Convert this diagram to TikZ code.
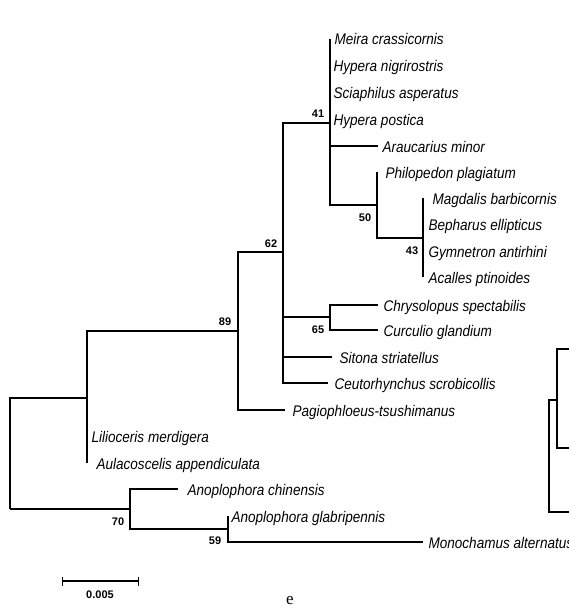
\documentclass[tikz,border=0pt]{standalone}
\usepackage{fontspec}
\usetikzlibrary{arrows.meta}
\newfontfamily\arialfont{Liberation Sans}
\newfontfamily\narrowfont{Liberation Sans}[FakeStretch=0.88]
\newfontfamily\timesfont{Liberation Serif}
\newcommand{\taxfont}{\narrowfont\itshape\fontsize{15.4}{18}\selectfont}
\newcommand{\bootfont}{\arialfont\bfseries\fontsize{11}{13}\selectfont}

\begin{document}
\begin{tikzpicture}[x=1pt,y=-1pt,line width=1.1pt,
  taxon/.style={anchor=west,inner xsep=4pt,inner ysep=0pt,text height=12pt,text depth=0pt,font=\taxfont},
  boot/.style={inner sep=0pt,font=\bootfont}]
\useasboundingbox (0,0) rectangle (569,610);
% internal nodes of the tree
\coordinate (root) at (10,509);
\coordinate (nA) at (87,398);
\coordinate (n89) at (238,331);
\coordinate (n62) at (283,252);
\coordinate (n41) at (330,123);
\coordinate (n50) at (377,205);
\coordinate (n43) at (423,238);
\coordinate (n65) at (330,317);
\coordinate (n70) at (130,509);
\coordinate (n59) at (228,529);
% taxa
\node[taxon] (meira) at (330,39) {Meira crassicornis};
\node[taxon,inner xsep=3pt] (hypnig) at (330,65) {Hypera nigrirostris};
\node[taxon,inner xsep=3pt] (sciaph) at (330,92) {Sciaphilus asperatus};
\node[taxon,inner xsep=3pt] (hyppos) at (330,119) {Hypera postica};
\node[taxon] (arauc) at (378,146) {Araucarius minor};
\node[taxon,inner xsep=8pt] (philo) at (377,172) {Philopedon plagiatum};
\node[taxon,inner xsep=9pt] (magd) at (423,198) {Magdalis barbicornis};
\node[taxon,inner xsep=5pt] (beph) at (423,224) {Bepharus ellipticus};
\node[taxon,inner xsep=5pt] (gymn) at (423,251) {Gymnetron antirhini};
\node[taxon,inner xsep=5pt] (acal) at (423,277) {Acalles ptinoides};
\node[taxon,inner xsep=5pt] (chrys) at (378,305) {Chrysolopus spectabilis};
\node[taxon,inner xsep=5pt] (curc) at (378,330) {Curculio glandium};
\node[taxon,inner xsep=7pt] (sito) at (332,357) {Sitona striatellus};
\node[taxon,inner xsep=6pt] (ceut) at (328,383) {Ceutorhynchus scrobicollis};
\node[taxon,inner xsep=7pt] (pagio) at (285,410) {Pagiophloeus-tsushimanus};
\node[taxon] (lilio) at (87,436) {Lilioceris merdigera};
\node[taxon,inner xsep=9pt] (aulac) at (87,463) {Aulacoscelis appendiculata};
\node[taxon,inner xsep=9pt] (anochi) at (178,489) {Anoplophora chinensis};
\node[taxon,inner xsep=3pt] (anogla) at (228,516) {Anoplophora glabripennis};
\node[taxon,inner xsep=5pt] (monoch) at (423,542) {Monochamus alternatus};
% branches
\draw (root) |- (nA);
\draw (root) |- (n70);
\draw (nA) |- (n89);
\draw (nA) |- (lilio.west);
\draw (nA) |- (aulac.west);
\draw (n89) |- (n62);
\draw (n89) |- (pagio.west);
\draw (n62) |- (n41);
\draw (n62) |- (n65);
\draw (n62) |- (sito.west);
\draw (n62) |- (ceut.west);
\draw (n41) |- (meira.west);
\draw (n41) |- (hypnig.west);
\draw (n41) |- (sciaph.west);
\draw (n41) |- (hyppos.west);
\draw (n41) |- (arauc.west);
\draw (n41) |- (n50);
\draw (n50) |- (philo.west);
\draw (n50) |- (n43);
\draw (n43) |- (magd.west);
\draw (n43) |- (beph.west);
\draw (n43) |- (gymn.west);
\draw (n43) |- (acal.west);
\draw (n65) |- (chrys.west);
\draw (n65) |- (curc.west);
\draw (n70) |- (anochi.west);
\draw (n70) |- (n59);
\draw (n59) |- (anogla.west);
\draw (n59) |- (monoch.west);
% bootstrap values
\node[boot,xshift=-12pt,yshift=9pt] (b41) at (n41) {41};
\node[boot,xshift=-12pt,yshift=-13pt] (b50) at (n50) {50};
\node[boot,xshift=-11pt,yshift=-13pt] (b43) at (n43) {43};
\node[boot,xshift=-12pt,yshift=8pt] (b62) at (n62) {62};
\node[boot,xshift=-12pt,yshift=-13pt] (b65) at (n65) {65};
\node[boot,xshift=-13pt,yshift=9pt] (b89) at (n89) {89};
\node[boot,xshift=-12pt,yshift=-13pt] (b70) at (n70) {70};
\node[boot,xshift=-13pt,yshift=-12pt] (b59) at (n59) {59};
% scale bar
\coordinate (sbl) at (62,581);
\coordinate (sbr) at (139,581);
\draw[{Bar[width=9pt]}-{Bar[width=9pt]}] (sbl) -- (sbr);
\node[boot] (sblab) at (100,595) {0.005};
% panel letter
\node[font=\timesfont\fontsize{17}{19}\selectfont] (panel) at (290,601) {e};
% edge of the next panel
\draw (569,349) -- (557,349) -- (557,448) -- (569,448);
\draw (557,400) -- (549,400) -- (549,512) -- (569,512);
\end{tikzpicture}
\end{document}
